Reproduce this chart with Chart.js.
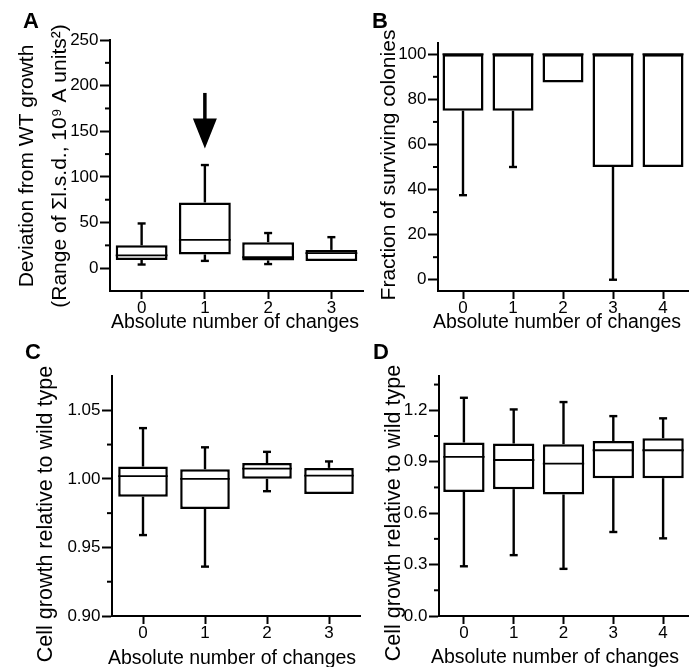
<!DOCTYPE html>
<html><head><meta charset="utf-8">
<script src="https://cdn.jsdelivr.net/npm/chart.js@4"></script>
<style>
html,body{margin:0;padding:0;background:#fff;width:696px;height:667px;overflow:hidden;}
canvas{position:absolute;}
</style></head><body>
<canvas id="cA" width="366" height="334" style="left:0px;top:0px"></canvas>
<canvas id="cB" width="348" height="334" style="left:348px;top:0px"></canvas>
<canvas id="cC" width="366" height="333" style="left:0px;top:334px"></canvas>
<canvas id="cD" width="348" height="333" style="left:348px;top:334px"></canvas>
<script>
// ---------- DATA ----------
const catsA = ['0','1','2','3'];
const whiskerLowA  = [4, 8, 4.5, 8];
const q1A          = [9, 15, 8.5, 8];
const medianA      = [14, 31, 12, 16.5];
const q3A          = [25, 72, 28.5, 20];
const whiskerHighA = [49, 113, 38.5, 34];
const yTicksA = [0, 50, 100, 150, 200, 250];
const yMinorA = [25, 75, 125, 175, 225];
// arrow annotation in panel A (category index, y values)
const arrowCatA = 1, arrowTopA = 192, arrowHeadA = 164, arrowTipA = 131;

const catsB = ['0','1','2','3','4'];
const whiskerLowB  = [37.5, 50, 87.5, 0, 50];
const q1B          = [75, 75, 87.5, 50, 50];
const medianB      = [100, 100, 100, 100, 100];
const q3B          = [100, 100, 100, 100, 100];
const whiskerHighB = [100, 100, 100, 100, 100];
const yTicksB = [0, 20, 40, 60, 80, 100];
const yMinorB = [10, 30, 50, 70, 90];

const catsC = ['0','1','2','3'];
const whiskerLowC  = [0.959, 0.936, 0.991, 0.989];
const q1C          = [0.987, 0.978, 1.000, 0.989];
const medianC      = [1.002, 1.000, 1.0075, 1.0024];
const q3C          = [1.009, 1.007, 1.0115, 1.008];
const whiskerHighC = [1.037, 1.023, 1.0197, 1.0127];
const yTicksC = [0.90, 0.95, 1.00, 1.05];
const yMinorC = [0.925, 0.975, 1.025];

const catsD = ['0','1','2','3','4'];
const whiskerLowD  = [0.29, 0.355, 0.275, 0.49, 0.453];
const q1D          = [0.724, 0.74, 0.709, 0.804, 0.804];
const medianD      = [0.928, 0.91, 0.889, 0.967, 0.967];
const q3D          = [1.012, 1.006, 1.002, 1.021, 1.037];
const whiskerHighD = [1.273, 1.205, 1.248, 1.166, 1.153];
const yTicksD = [0.0, 0.3, 0.6, 0.9, 1.2];
const yMinorD = [0.15, 0.45, 0.75, 1.05, 1.35];

const xTitle = 'Absolute number of changes';

// ---------- RENDERING ----------
const FONT = '"Liberation Sans", Arial, Helvetica, sans-serif';
Chart.defaults.font.family = FONT;
Chart.defaults.color = '#000';
Chart.defaults.animation = false;

const boxExtras = {
  id: 'boxExtras',
  afterDatasetsDraw(chart, args, o) {
    const {ctx} = chart; const y = chart.scales.y;
    const meta = chart.getDatasetMeta(0);
    const line = (x1,y1,x2,y2) => { ctx.beginPath(); ctx.moveTo(x1,y1); ctx.lineTo(x2,y2); ctx.stroke(); };
    ctx.save();
    ctx.strokeStyle = '#000'; ctx.fillStyle = '#000'; ctx.lineCap = 'butt';
    o.q1.forEach((_, i) => {
      const bar = meta.data[i];
      const cx = bar.x, half = bar.width / 2, cap = 4;
      const pLo = y.getPixelForValue(o.lo[i]), pQ1 = y.getPixelForValue(o.q1[i]);
      const pMed = y.getPixelForValue(o.med[i]);
      const pQ3 = y.getPixelForValue(o.q3[i]), pHi = y.getPixelForValue(o.hi[i]);
      ctx.lineWidth = 2.4;
      if (o.hi[i] > o.q3[i]) { line(cx, pQ3, cx, pHi); line(cx - cap, pHi, cx + cap, pHi); }
      if (o.lo[i] < o.q1[i]) { line(cx, pQ1, cx, pLo); line(cx - cap, pLo, cx + cap, pLo); }
      ctx.lineWidth = 1.8;
      line(cx - half, pMed, cx + half, pMed);
    });
    if (o.arrow) {
      const a = o.arrow;
      const cx = meta.data[a.cat].x;
      const pTop = y.getPixelForValue(a.top), pHead = y.getPixelForValue(a.head), pTip = y.getPixelForValue(a.tip);
      ctx.lineWidth = 3.5;
      line(cx, pTop, cx, pHead + 1);
      ctx.beginPath(); ctx.moveTo(cx - 12, pHead); ctx.lineTo(cx + 12, pHead); ctx.lineTo(cx, pTip); ctx.closePath(); ctx.fill();
    }
    ctx.restore();
  },
  afterDraw(chart, args, o) {
    const {ctx, chartArea} = chart; const y = chart.scales.y;
    ctx.save();
    ctx.strokeStyle = '#000'; ctx.lineWidth = 2;
    o.minor.forEach(v => {
      const p = y.getPixelForValue(v);
      ctx.beginPath(); ctx.moveTo(chartArea.left, p); ctx.lineTo(chartArea.left - 5, p); ctx.stroke();
    });
    ctx.fillStyle = '#000';
    // y title(s), rotated
    ctx.font = o.yFont + 'px ' + FONT;
    ctx.textAlign = 'center'; ctx.textBaseline = 'alphabetic';
    o.yTitle.forEach((t, i) => {
      ctx.save(); ctx.translate(o.yBase[i], o.yCenter); ctx.rotate(-Math.PI / 2);
      ctx.fillText(t, 0, 0); ctx.restore();
    });
    // x title
    ctx.font = '19.5px ' + FONT;
    ctx.fillText(xTitle, o.xCenter, o.xBase);
    // panel letter
    ctx.font = 'bold 22px ' + FONT; ctx.textAlign = 'left';
    ctx.fillText(o.letter, o.letterX, o.letterBase);
    ctx.restore();
  }
};

function makeChart(id, d) {
  const canvas = document.getElementById(id);
  const W = canvas.width, H = canvas.height;
  return new Chart(canvas, {
    type: 'bar',
    data: {
      labels: d.cats,
      datasets: [{
        data: d.q1.map((v, i) => [v, d.q3[i]]),
        backgroundColor: '#fff', borderColor: '#000', borderWidth: 2.5,
        borderSkipped: false, barPercentage: d.boxPct, categoryPercentage: 1.0
      }]
    },
    options: {
      responsive: false, animation: false,
      layout: { padding: { left: 0, top: d.area.t, right: W - d.area.r, bottom: 0 } },
      plugins: {
        legend: { display: false }, tooltip: { enabled: false },
        boxExtras: {
          lo: d.lo, q1: d.q1, med: d.med, q3: d.q3, hi: d.hi, minor: d.minor, arrow: d.arrow,
          yTitle: d.yTitle, yBase: d.yBase, yCenter: d.yCenter, yFont: d.yFont,
          xCenter: d.xCenter, xBase: d.xBase, letter: d.letter, letterX: d.letterX, letterBase: d.letterBase
        }
      },
      scales: {
        x: {
          type: 'category', offset: true,
          grid: { offset: false, drawOnChartArea: false, drawTicks: true, tickLength: 8, tickWidth: 2, tickColor: '#000' },
          border: { display: true, color: '#000', width: 2 },
          ticks: { font: { size: 17, lineHeight: 1 }, padding: 0.5, maxRotation: 0, color: '#000' },
          afterFit: s => { s.height = H - d.area.b; }
        },
        y: {
          type: 'linear', min: d.yMin, max: d.yMax,
          afterBuildTicks: s => { s.ticks = d.yTicks.map(v => ({ value: v })); },
          grid: { drawOnChartArea: false, drawTicks: true, tickLength: 10, tickWidth: 2, tickColor: '#000' },
          border: { display: true, color: '#000', width: 2 },
          ticks: { font: { size: 17 }, padding: 1.5, color: '#000', callback: v => Number(v).toFixed(d.dec) },
          afterFit: s => { s.width = d.area.l; }
        }
      }
    },
    plugins: [boxExtras]
  });
}

makeChart('cA', {
  cats: catsA, lo: whiskerLowA, q1: q1A, med: medianA, q3: q3A, hi: whiskerHighA,
  yMin: -25, yMax: 250, yTicks: yTicksA, minor: yMinorA, dec: 0, boxPct: 0.82,
  area: { l: 110, r: 363, t: 40, b: 291 },
  arrow: { cat: arrowCatA, top: arrowTopA, head: arrowHeadA, tip: arrowTipA },
  yTitle: ['Deviation from WT growth', '(Range of \u03A3l.s.d., 10\u2079 A units\u00B2)'],
  yBase: [33, 66], yCenter: 166, yFont: 21,
  xCenter: 235, xBase: 328, letter: 'A', letterX: 23, letterBase: 28
});
makeChart('cB', {
  cats: catsB, lo: whiskerLowB, q1: q1B, med: medianB, q3: q3B, hi: whiskerHighB,
  yMin: -5, yMax: 105, yTicks: yTicksB, minor: yMinorB, dec: 0, boxPct: 0.82,
  area: { l: 90, r: 340, t: 43, b: 291 },
  yTitle: ['Fraction of surviving colonies'], yBase: [47], yCenter: 165, yFont: 21,
  xCenter: 209, xBase: 328, letter: 'B', letterX: 24, letterBase: 28
});
makeChart('cC', {
  cats: catsC, lo: whiskerLowC, q1: q1C, med: medianC, q3: q3C, hi: whiskerHighC,
  yMin: 0.90, yMax: 1.075, yTicks: yTicksC, minor: yMinorC, dec: 2, boxPct: 0.8,
  area: { l: 112, r: 360, t: 42, b: 282 },
  yTitle: ['Cell growth relative to wild type'], yBase: [52], yCenter: 180, yFont: 21.5,
  xCenter: 232, xBase: 330, letter: 'C', letterX: 25, letterBase: 25
});
makeChart('cD', {
  cats: catsD, lo: whiskerLowD, q1: q1D, med: medianD, q3: q3D, hi: whiskerHighD,
  yMin: 0, yMax: 1.4, yTicks: yTicksD, minor: yMinorD, dec: 1, boxPct: 0.83,
  area: { l: 91, r: 340, t: 42, b: 282 },
  yTitle: ['Cell growth relative to wild type'], yBase: [52], yCenter: 179, yFont: 21.5,
  xCenter: 207, xBase: 329, letter: 'D', letterX: 25, letterBase: 25
});
</script>
</body></html>
